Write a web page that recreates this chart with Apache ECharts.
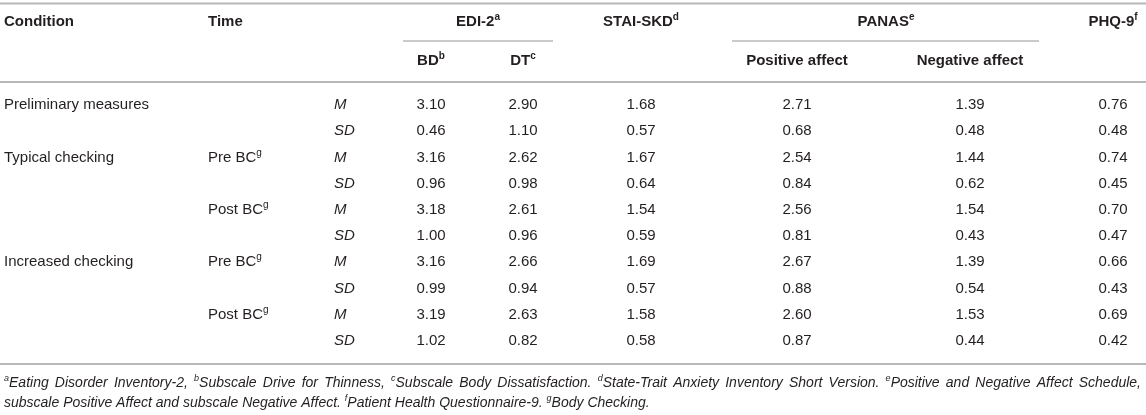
<!DOCTYPE html>
<html><head><meta charset="utf-8">
<script src="https://cdn.jsdelivr.net/npm/echarts@6/dist/echarts.min.js"></script>
<style>html,body{margin:0;padding:0;background:#fff}#c{width:1146px;height:415px}</style>
</head><body><div id="c"></div>
<script>
// ---- data ----
const conditions = ['Preliminary measures','','Typical checking','','','','Increased checking','','',''];
const times = ['','','Pre BC','','Post BC','','Pre BC','','Post BC',''];
const timeSup = ['','','g','','g','','g','','g',''];
const stats = ['M','SD','M','SD','M','SD','M','SD','M','SD'];
const bd = [3.10,0.46,3.16,0.96,3.18,1.00,3.16,0.99,3.19,1.02];
const dt = [2.90,1.10,2.62,0.98,2.61,0.96,2.66,0.94,2.63,0.82];
const stai = [1.68,0.57,1.67,0.64,1.54,0.59,1.69,0.57,1.58,0.58];
const posAffect = [2.71,0.68,2.54,0.84,2.56,0.81,2.67,0.88,2.60,0.87];
const negAffect = [1.39,0.48,1.44,0.62,1.54,0.43,1.39,0.54,1.53,0.44];
const phq = [0.76,0.48,0.74,0.45,0.70,0.47,0.66,0.43,0.69,0.42];
const headTop = [['Condition',''],['Time',''],['EDI-2','a'],['STAI-SKD','d'],['PANAS','e'],['PHQ-9','f']];
const headSub = [['BD','b'],['DT','c'],['Positive affect',''],['Negative affect','']];
const footLine1 = [['a','Eating Disorder Inventory-2,'],['b','Subscale Drive for Thinness,'],['c','Subscale Body Dissatisfaction.'],['d','State-Trait Anxiety Inventory Short Version.'],['e','Positive and Negative Affect Schedule,']];
const footLine2 = [['','subscale Positive Affect and subscale Negative Affect.'],['f','Patient Health Questionnaire-9.'],['g','Body Checking.']];

// ---- layout ----
const W = 1146, H = 415;
const FONT = '"Liberation Sans", Arial, Helvetica, sans-serif';
const TXT = '#231f20';
const RULE = '#b8b8b8';
const L = {
  rowY0: 105, rowH: 26.2, headY1: 22, headY2: 61, footY1: 383, footY2: 403,
  footLeft: 4, footRight: 1141,
  cols: {
    cond: [4, 'left'], time: [208, 'left'], stat: [334, 'left'],
    bd: [431, 'center'], dt: [523, 'center'], stai: [641, 'center'],
    pos: [797, 'center'], neg: [970, 'center'], phq: [1113, 'center'],
    edi: [478, 'center'], panas: [886, 'center']
  },
  rules: [[0, W, 3.5, 2], [403, 553, 41, 1.5], [732, 1039, 41, 1.5], [0, W, 82, 2], [0, W, 364, 2]]
};
const kinds = {
  head: {fontSize: 15, fontWeight: 'bold', fontStyle: 'normal', lineHeight: 19, sup: 10},
  body: {fontSize: 15, fontWeight: 'normal', fontStyle: 'normal', lineHeight: 19, sup: 10},
  stat: {fontSize: 15, fontWeight: 'normal', fontStyle: 'italic', lineHeight: 19, sup: 10},
  foot: {fontSize: 14, fontWeight: 'normal', fontStyle: 'italic', lineHeight: 18, sup: 9}
};

// ---- build cells ----
const cells = [];
function sup(t, s) { return s ? t + '{s|' + s + '}' : t; }
const topCols = ['cond','time','edi','stai','panas','phq'];
headTop.forEach((h, i) => cells.push({x: L.cols[topCols[i]][0], align: L.cols[topCols[i]][1], y: L.headY1, text: sup(h[0], h[1]), kind: 'head'}));
const subCols = ['bd','dt','pos','neg'];
headSub.forEach((h, i) => cells.push({x: L.cols[subCols[i]][0], align: L.cols[subCols[i]][1], y: L.headY2, text: sup(h[0], h[1]), kind: 'head'}));
const valueCols = [['bd', bd], ['dt', dt], ['stai', stai], ['pos', posAffect], ['neg', negAffect], ['phq', phq]];
function cell(col, y, text, kind) { cells.push({x: L.cols[col][0], align: L.cols[col][1], y, text, kind}); }
for (let r = 0; r < stats.length; r++) {
  const y = L.rowY0 + r * L.rowH;
  if (conditions[r]) cell('cond', y, conditions[r], 'body');
  if (times[r]) cell('time', y, sup(times[r], timeSup[r]), 'body');
  cell('stat', y, stats[r], 'stat');
  valueCols.forEach(([c, arr]) => cell(c, y, arr[r].toFixed(2), 'body'));
}

// footnotes: line 1 justified (word by word), line 2 left aligned
const ctx = document.createElement('canvas').getContext('2d');
function measure(str, size) { ctx.font = 'italic normal ' + size + 'px ' + FONT; return ctx.measureText(str).width; }
const fk = kinds.foot;
const words = [];
footLine1.forEach(p => {
  p[1].split(' ').forEach((w, j) => {
    const s = j === 0 ? p[0] : '';
    words.push({text: (s ? '{s|' + s + '}' : '') + w, w: (s ? measure(s, fk.sup) : 0) + measure(w, fk.fontSize)});
  });
});
const total = words.reduce((a, b) => a + b.w, 0);
const gap = (L.footRight - L.footLeft - total) / (words.length - 1);
let fx = L.footLeft;
words.forEach(wd => { cells.push({x: fx, align: 'left', y: L.footY1, text: wd.text, kind: 'foot'}); fx += wd.w + gap; });
cells.push({x: L.footLeft, align: 'left', y: L.footY2, text: footLine2.map(p => (p[0] ? '{s|' + p[0] + '}' : '') + p[1]).join(' '), kind: 'foot'});

const chart = echarts.init(document.getElementById('c'));
chart.setOption({
  animation: false,
  grid: {left: 0, right: 0, top: 0, bottom: 0},
  xAxis: {type: 'value', min: 0, max: W, show: false},
  yAxis: {type: 'value', min: 0, max: H, inverse: true, show: false},
  series: [
    {
      type: 'custom', coordinateSystem: 'cartesian2d', clip: false,
      data: L.rules.map((r, i) => [r[0], r[2], i]),
      renderItem: function (params, api) {
        const r = L.rules[params.dataIndex];
        const p1 = api.coord([r[0], r[2]]), p2 = api.coord([r[1], r[2]]);
        return {type: 'line', shape: {x1: p1[0], y1: p1[1], x2: p2[0], y2: p2[1]}, style: {stroke: RULE, lineWidth: r[3]}};
      }
    },
    {
      type: 'custom', coordinateSystem: 'cartesian2d', clip: false,
      data: cells.map((c, i) => [c.x, c.y, i]),
      renderItem: function (params, api) {
        const c = cells[params.dataIndex];
        const k = kinds[c.kind];
        const p = api.coord([api.value(0), api.value(1)]);
        return {
          type: 'text', x: p[0], y: p[1],
          style: {
            text: c.text, fill: TXT, fontFamily: FONT, fontSize: k.fontSize, fontWeight: k.fontWeight,
            fontStyle: k.fontStyle, lineHeight: k.lineHeight, align: c.align, verticalAlign: 'middle',
            rich: {s: {fontSize: k.sup, fontWeight: k.fontWeight, fontStyle: k.fontStyle, fontFamily: FONT, fill: TXT, lineHeight: k.sup + 1, verticalAlign: 'top'}}
          }
        };
      }
    }
  ]
});
</script></body></html>
